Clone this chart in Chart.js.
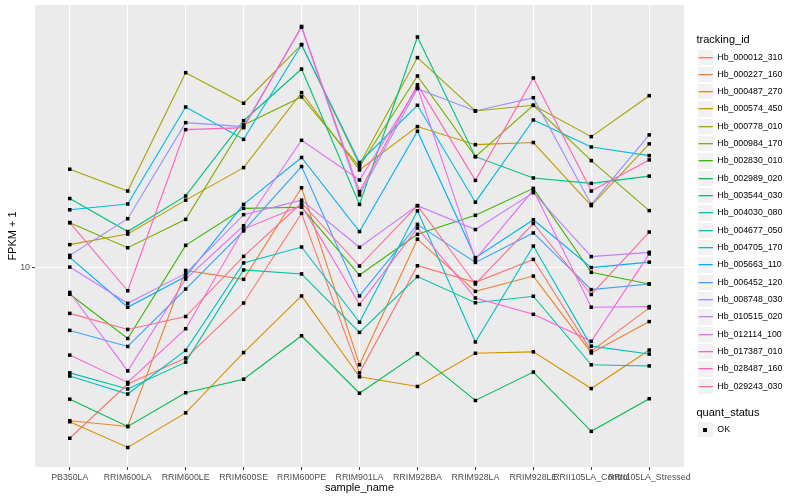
<!DOCTYPE html>
<html><head><meta charset="utf-8">
<script src="https://cdn.jsdelivr.net/npm/chart.js@4.4.0/dist/chart.umd.min.js"></script>
<style>
html,body{margin:0;padding:0;background:#fff;}
#wrap{position:relative;width:800px;height:500px;font-family:"Liberation Sans",Arial,Helvetica,sans-serif;}
#c{position:absolute;left:0;top:0;}
#legend{position:absolute;left:696.5px;top:31px;}
.ltitle{font-size:11px;color:#000;height:17.5px;line-height:17px;white-space:nowrap;}
.lrow{height:17.33px;display:flex;align-items:center;}
.key{width:17.3px;height:17.33px;background:#F2F2F2;border:1px solid #fff;box-sizing:border-box;position:relative;flex:none;}
.key svg{position:absolute;left:0;top:0;}
.kdot{position:absolute;left:50%;top:50%;width:3.6px;height:3.6px;margin:-1.8px 0 0 -1.8px;background:#000;}
.ltext{font-size:8.8px;margin-left:3.5px;color:#000;line-height:17.33px;white-space:nowrap;}
.gap{height:8.6px;}
</style>
</head><body>
<div id="wrap"><canvas id="c" width="800" height="500"></canvas><div id="legend"></div></div>
<script>
const categories = ["PB350LA","RRIM600LA","RRIM600LE","RRIM600SE","RRIM600PE","RRIM901LA","RRIM928BA","RRIM928LA","RRIM928LE","RRII105LA_Control","RRII105LA_Stressed"];
const trackingIds = ["Hb_000012_310","Hb_000227_160","Hb_000487_270","Hb_000574_450","Hb_000778_010","Hb_000984_170","Hb_002830_010","Hb_002989_020","Hb_003544_030","Hb_004030_080","Hb_004677_050","Hb_004705_170","Hb_005663_110","Hb_006452_120","Hb_008748_030","Hb_010515_020","Hb_012114_100","Hb_017387_010","Hb_028487_160","Hb_029243_030"];
const yTicks = [10];
const yTickLabels = ["10"];
const quantStatus = ["OK"];

// FPKM + 1 per sample, one array per tracking_id
const hb_000012_310 = [5.19, 6.39, 7.06, 8.72, 12.30, 6.67, 10.06, 9.44, 10.31, 7.25, 8.56];
const hb_000227_160 = [5.55, 5.43, 9.88, 9.55, 13.57, 6.88, 11.14, 9.12, 9.67, 7.20, 8.12];
const hb_000487_270 = [5.53, 5.01, 5.72, 7.21, 8.96, 6.57, 6.33, 7.19, 7.23, 6.28, 7.28];
const hb_000574_450 = [10.91, 11.36, 12.94, 14.66, 19.55, 14.53, 17.16, 16.01, 16.14, 12.67, 16.06];
const hb_000778_010 = [14.57, 13.40, 21.10, 18.77, 23.50, 14.83, 22.36, 18.22, 18.62, 16.51, 19.32];
const hb_000984_170 = [11.87, 10.78, 12.02, 17.27, 19.23, 14.72, 20.84, 15.29, 18.62, 15.06, 12.43];
const hb_002830_010 = [9.02, 7.61, 10.88, 12.54, 12.59, 9.71, 11.35, 12.21, 13.54, 9.81, 9.38];
const hb_002989_020 = [6.03, 5.43, 6.18, 6.51, 7.69, 6.17, 7.18, 6.00, 6.69, 5.33, 6.04];
const hb_003544_030 = [13.02, 11.47, 13.15, 17.55, 21.40, 12.73, 24.20, 15.29, 14.09, 13.80, 14.19];
const hb_004030_080 = [6.67, 6.27, 6.95, 9.90, 9.75, 7.79, 9.65, 8.73, 8.95, 6.88, 6.85];
const hb_004677_050 = [6.59, 6.15, 7.27, 10.17, 10.81, 8.10, 12.42, 7.51, 10.85, 7.39, 7.17];
const hb_004705_170 = [12.47, 12.75, 18.50, 16.34, 23.50, 14.95, 18.62, 12.84, 17.60, 15.87, 15.35];
const hb_005663_110 = [10.39, 8.58, 9.65, 12.73, 15.24, 11.47, 16.86, 10.38, 12.00, 9.99, 10.20];
const hb_006452_120 = [7.85, 7.38, 9.20, 11.50, 14.72, 8.96, 11.79, 10.19, 11.41, 9.18, 9.38];
const hb_008748_030 = [10.47, 12.05, 17.42, 17.16, 25.12, 13.20, 19.85, 18.22, 19.17, 12.73, 16.62];
const hb_010515_020 = [10.01, 8.71, 9.77, 12.24, 12.94, 10.80, 12.67, 11.56, 13.32, 10.42, 10.59];
const hb_012114_100 = [9.08, 6.72, 9.56, 11.73, 16.28, 13.98, 19.96, 10.31, 13.45, 8.58, 8.60];
const hb_017387_010 = [7.14, 6.43, 7.90, 11.58, 12.68, 8.67, 11.63, 8.89, 8.35, 7.53, 10.53];
const hb_028487_160 = [11.87, 9.14, 16.96, 17.09, 25.20, 13.37, 20.14, 13.96, 20.68, 13.40, 15.10];
const hb_029243_030 = [8.38, 7.88, 8.28, 10.43, 12.80, 10.05, 12.67, 9.38, 11.83, 9.01, 11.45];

const seriesValues = [hb_000012_310, hb_000227_160, hb_000487_270, hb_000574_450, hb_000778_010, hb_000984_170, hb_002830_010, hb_002989_020, hb_003544_030, hb_004030_080, hb_004677_050, hb_004705_170, hb_005663_110, hb_006452_120, hb_008748_030, hb_010515_020, hb_012114_100, hb_017387_010, hb_028487_160, hb_029243_030];

const palette = ["#F8766D","#EA8331","#D89000","#C09B00","#A3A500","#7CAE00","#39B600","#00BB4E","#00BF7D","#00C1A3","#00BFC4","#00BAE0","#00B0F6","#35A2FF","#9590FF","#C77CFF","#E76BF3","#FA62DB","#FF62BC","#FF6C91"];

const FONT = '"Liberation Sans", Arial, Helvetica, sans-serif';
Chart.defaults.font.family = FONT;

const datasets = [];
seriesValues.forEach((vals, i) => {
  datasets.push({
    label: trackingIds[i],
    data: vals.map((v, j) => ({x: j, y: v})),
    borderColor: palette[i], backgroundColor: palette[i],
    borderWidth: 1.1, pointRadius: 0, fill: false, tension: 0,
    order: 100 - i
  });
});
seriesValues.forEach((vals, i) => {
  datasets.push({
    label: trackingIds[i] + ' ' + quantStatus[0],
    data: vals.map((v, j) => ({x: j, y: v})),
    showLine: false, pointStyle: 'rect', pointRadius: 2.5,
    pointBackgroundColor: '#000000', pointBorderWidth: 0,
    borderColor: '#000000', order: 0
  });
});

const panelBg = {
  id: 'panelBg',
  beforeDraw(chart) {
    const {ctx, chartArea: a} = chart;
    ctx.save();
    ctx.fillStyle = '#EBEBEB';
    ctx.fillRect(a.left, a.top, a.right - a.left, a.bottom - a.top);
    ctx.restore();
  }
};

new Chart(document.getElementById('c'), {
  type: 'line',
  data: {datasets},
  plugins: [panelBg],
  options: {
    responsive: false, animation: false, devicePixelRatio: 1,
    layout: {padding: {left: 0, top: 5, right: 116, bottom: 0}},
    plugins: {legend: {display: false}, tooltip: {enabled: false}},
    scales: {
      x: {
        type: 'linear', min: -0.6, max: 10.6,
        afterBuildTicks: s => { s.ticks = categories.map((c, i) => ({value: i})); },
        afterFit: s => { s.height = 33; s.paddingLeft = 0; s.paddingRight = 0; },
        ticks: {autoSkip: false, maxRotation: 0, minRotation: 0, padding: 2.5, color: '#4D4D4D',
          font: {size: 8.8, family: FONT}, callback: v => categories[v]},
        grid: {color: '#FFFFFF', lineWidth: 1.1, tickLength: 3, tickColor: '#333333', tickWidth: 1},
        border: {display: false},
        title: {display: true, text: 'sample_name', color: '#000000', font: {size: 11, family: FONT},
          padding: {top: 0, bottom: 5}}
      },
      y: {
        type: 'logarithmic', min: 4.648, max: 27.36,
        afterBuildTicks: s => { s.ticks = yTicks.map(v => ({value: v})); },
        afterFit: s => { s.width = 35; s.paddingTop = 0; s.paddingBottom = 0; },
        ticks: {padding: 2, color: '#4D4D4D', font: {size: 8.8, family: FONT},
          callback: v => yTickLabels[yTicks.indexOf(v)]},
        grid: {color: '#FFFFFF', lineWidth: 1.1, tickLength: 3, tickColor: '#333333', tickWidth: 1},
        border: {display: false},
        title: {display: true, text: 'FPKM + 1', color: '#000000', font: {size: 11, family: FONT},
          padding: {top: 6, bottom: 0}}
      }
    }
  }
});

// legend
const leg = document.getElementById('legend');
const SVGNS = 'http://www.w3.org/2000/svg';
function addTitle(text) {
  const d = document.createElement('div'); d.className = 'ltitle'; d.textContent = text; leg.appendChild(d);
}
addTitle('tracking_id');
trackingIds.forEach((id, i) => {
  const r = document.createElement('div'); r.className = 'lrow';
  const k = document.createElement('span'); k.className = 'key';
  const svg = document.createElementNS(SVGNS, 'svg');
  svg.setAttribute('width', '15.3'); svg.setAttribute('height', '15.33');
  const ln = document.createElementNS(SVGNS, 'line');
  ln.setAttribute('x1', '0.5'); ln.setAttribute('x2', '14.8');
  ln.setAttribute('y1', '7.66'); ln.setAttribute('y2', '7.66');
  ln.setAttribute('stroke', palette[i]); ln.setAttribute('stroke-width', '1.3');
  svg.appendChild(ln); k.appendChild(svg);
  const t = document.createElement('span'); t.className = 'ltext'; t.textContent = id;
  r.appendChild(k); r.appendChild(t); leg.appendChild(r);
});
const g = document.createElement('div'); g.className = 'gap'; leg.appendChild(g);
addTitle('quant_status');
quantStatus.forEach(q => {
  const r = document.createElement('div'); r.className = 'lrow';
  const k = document.createElement('span'); k.className = 'key';
  const d = document.createElement('span'); d.className = 'kdot'; k.appendChild(d);
  const t = document.createElement('span'); t.className = 'ltext'; t.textContent = q;
  r.appendChild(k); r.appendChild(t); leg.appendChild(r);
});
</script>
</body></html>
